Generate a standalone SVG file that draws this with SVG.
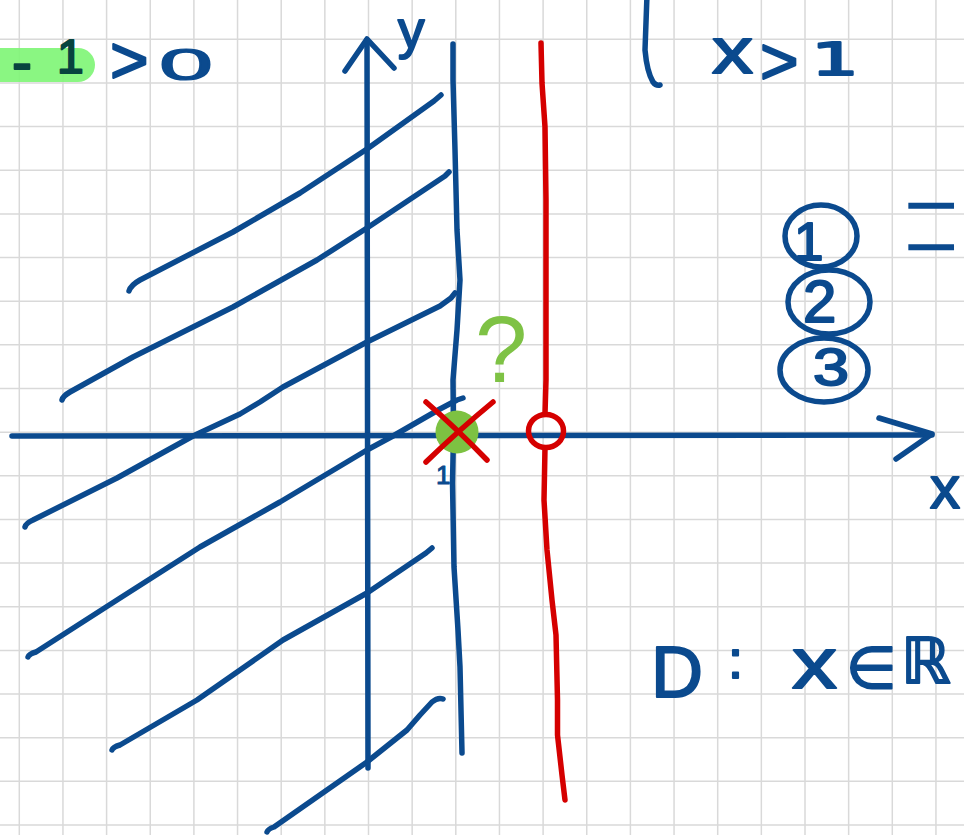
<svg xmlns="http://www.w3.org/2000/svg" width="964" height="835" viewBox="0 0 964 835">
<style>
.grid{stroke:#d9d9d9;stroke-width:1.5;fill:none}
.b{stroke:#0b4a8e;stroke-width:5.5;fill:none;stroke-linecap:round;stroke-linejoin:round}
.r{stroke:#d50000;stroke-width:5.5;fill:none;stroke-linecap:round;stroke-linejoin:round}
.t{font-family:"Liberation Sans","DejaVu Sans",sans-serif;fill:#0b4a8e;stroke:#0b4a8e;stroke-width:2;stroke-linejoin:round}
.dj{font-family:"DejaVu Sans","Liberation Sans",sans-serif}
.dk{fill:#08443f;stroke:#08443f}
</style>
<rect width="964" height="835" fill="#ffffff"/>
<g id="grid">
<path class="grid" d="M19.3,0V835M62.95,0V835M106.6,0V835M150.25,0V835M193.9,0V835M237.55,0V835M281.2,0V835M324.85,0V835M368.5,0V835M412.15,0V835M455.8,0V835M499.45,0V835M543.1,0V835M586.75,0V835M630.4,0V835M674.05,0V835M717.7,0V835M761.35,0V835M805,0V835M848.65,0V835M892.3,0V835M935.95,0V835"/>
<path class="grid" d="M0,39.3H964M0,82.95H964M0,126.6H964M0,170.25H964M0,213.9H964M0,257.55H964M0,301.2H964M0,344.85H964M0,388.5H964M0,432.15H964M0,475.8H964M0,519.45H964M0,563.1H964M0,606.75H964M0,650.4H964M0,694.05H964M0,737.7H964M0,781.35H964M0,825H964"/>
</g>
<g id="inequality-top-left">
<rect x="-20" y="48" width="115" height="34" rx="17" fill="#80f577" opacity="0.92"/>
<text class="t dk" x="12" y="82" font-size="60">-</text>
<text class="t dk" x="57" y="73" font-size="48">1</text>
<text class="t" x="110" y="83" font-size="66">&gt;</text>
<text class="t" x="159" y="80" font-size="45" textLength="54" lengthAdjust="spacingAndGlyphs" style="stroke-width:1.2">0</text>
</g>
<g id="bracket-condition">
<path class="b" d="M647,-5 L645,50 Q647,72 653,82 Q656,86 660,85"/>
<text class="t" x="712" y="73" font-size="64" textLength="41" lengthAdjust="spacingAndGlyphs">x</text>
<text class="t" x="760" y="84" font-size="66">&gt;</text>
<text class="t dj" x="811" y="75" font-size="45" textLength="48" lengthAdjust="spacingAndGlyphs">1</text>
</g>
<g id="hatching">
<path class="b" d="M129,291 Q131,285 140,280 L233,232 L300,193 L367,149 L434,101 L441,95"/>
<path class="b" d="M62,400 Q63,396 70,392 L133,357 L233,307 L317,260 L367,228 L430,186 L445,176 L449,172"/>
<path class="b" d="M25,527 Q26,523 33,520 L117,478 L193,436 L240,414 L260,402 L283,387 L367,342 L440,306 L451,298 L455,293"/>
<path class="b" d="M28,657 Q29,654 36,652 L117,600 L200,547 L280,502 L367,450 L393,436 L440,409 L457,400 L463,398"/>
<path class="b" d="M112,750 Q113,747 120,745 L197,700 L283,640 L367,593 L426,553 L432,548"/>
<path class="b" d="M267,832 Q268,829 274,827 L367,762 L407,730 L420,715 L432,702 Q438,697 443,699"/>
</g>
<g id="axes">
<path class="b" d="M368,768 L367,40"/>
<path class="b" d="M345,71 L367,39 L394,68"/>
<text class="t" x="398" y="48" font-size="53">y</text>
<path class="b" d="M12,436 L932,435"/>
<path class="b" d="M879,418 L932,434 L896,459"/>
<text class="t" x="930" y="508" font-size="60">x</text>
</g>
<g id="line-x-equals-1">
<path class="b" d="M453,44 L453,80 L455,150 L457,230 L460,280 L457,330 L453,380 L453.5,433 L452.5,483 L454,567 L458,630 L460,667 L461,710 L462,753"/>
<text class="t" x="436" y="484" font-size="26" style="stroke-width:1">1</text>
</g>
<g id="red-boundary">
<path class="r" d="M541,43 L542,83 L545,127 L546,200 L546,300 L546,380 L545,414"/>
<ellipse class="r" cx="546" cy="431" rx="17.5" ry="16.5"/>
<path class="r" d="M545,448 L544,500 L547,550 L552,600 L556,635 L557.5,700 L557.5,735 L562,775 L565,800"/>
</g>
<g id="excluded-point">
<circle cx="457" cy="432" r="21.5" fill="#7dc242"/>
<path class="r" d="M426,402 Q456,428 487,460"/>
<path class="r" d="M493,402 Q459,430 426,462"/>
<text x="475" y="382" font-size="94" font-family="Liberation Sans, sans-serif" fill="#7ec245">?</text>
</g>
<g id="steps">
<ellipse class="b" cx="821" cy="236" rx="36" ry="31"/>
<text class="t" x="794" y="260" font-size="53">1</text>
<ellipse class="b" cx="829" cy="302" rx="41" ry="32"/>
<text class="t" x="803" y="322" font-size="60">2</text>
<ellipse class="b" cx="824" cy="370" rx="44" ry="32"/>
<text class="t" x="813" y="385" font-size="51" textLength="36" lengthAdjust="spacingAndGlyphs">3</text>
<text x="899" y="322" font-size="60" font-weight="100" fill="#0b4a8e" stroke="#0b4a8e" stroke-width="0.7" style="font-family:Lato,'Liberation Sans',sans-serif" transform="translate(899,322) scale(1.85,4.7) translate(-899,-322)">=</text>
</g>
<g id="domain">
<text class="t" x="651" y="697" font-size="72">D</text>
<text class="t" x="728" y="678" font-size="54">:</text>
<text class="t" x="792" y="688" font-size="73" textLength="45" lengthAdjust="spacingAndGlyphs">x</text>
<text class="t dj" x="846" y="688" font-size="58">∈</text>
<text class="t dj" x="901" y="683" font-size="63">ℝ</text>
</g>
</svg>
